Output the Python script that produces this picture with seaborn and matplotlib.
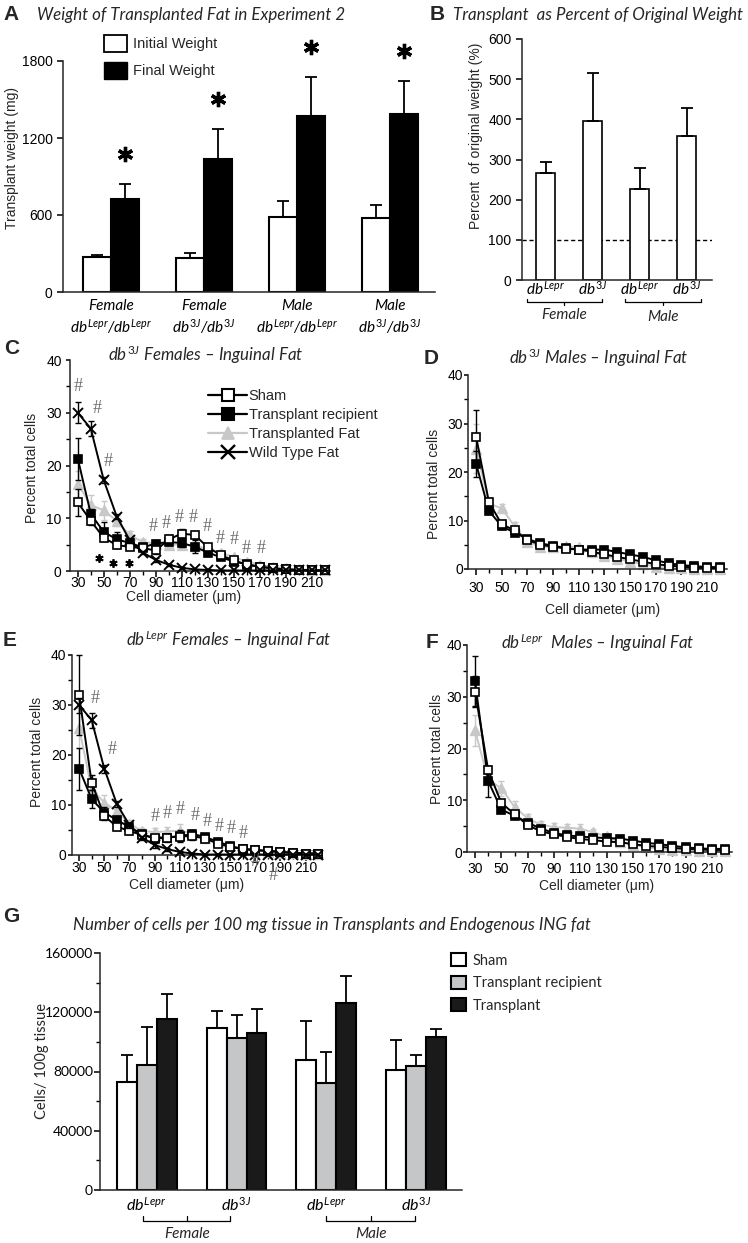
import numpy as np
import pandas as pd
import matplotlib
matplotlib.use('Agg')
import matplotlib.pyplot as plt
import matplotlib.transforms as mtransforms
import seaborn as sns
from matplotlib.patches import Patch
from matplotlib.lines import Line2D
from matplotlib.ticker import MultipleLocator, FixedLocator, FuncFormatter

# ---------------- data ----------------
# A: transplant weight (mg)
groups_a = ['Female dbLepr', 'Female db3J', 'Male dbLepr', 'Male db3J']
a_initial = [270, 265, 584, 576]
a_initial_err = [18, 39, 125, 102]
a_final = [725, 1036, 1371, 1387]
a_final_err = [116, 234, 304, 257]

# B: transplant as percent of original weight
groups_b = ['F dbLepr', 'F db3J', 'M dbLepr', 'M db3J']
b_percent = [266, 397, 226, 358]
b_percent_err = [28, 118, 53, 70]

# C-F: cell size distributions (percent of total cells)
diam = [30, 40, 50, 60, 70, 80, 90, 100, 110, 120, 130, 140, 150, 160, 170, 180, 190, 200, 210, 220]
x_ticks = [30, 50, 70, 90, 110, 130, 150, 170, 190, 210]
x_tick_labels = ['30', '50', '70', '90', '110', '130', '150', '170', '190', '210']

c_sham = [13.0, 9.5, 6.3, 4.9, 4.6, 4.3, 3.9, 6.0, 7.1, 6.8, 4.5, 3.0, 2.0, 1.2, 0.8, 0.5, 0.3, 0.2, 0.1, 0.1]
c_sham_err = [2.5, 0.8, 0.6, 0.5, 0.5, 0.5, 0.6, 0.8, 0.8, 0.8, 0.7, 0.5, 0.4, 0.3, 0.2, 0.2, 0.1, 0.1, 0.1, 0.1]
c_recip = [21.3, 10.8, 7.4, 6.0, 5.3, 4.5, 5.2, 5.5, 5.3, 4.6, 3.5, 2.6, 1.8, 1.3, 0.8, 0.5, 0.3, 0.2, 0.1, 0.1]
c_recip_err = [4.0, 1.0, 1.8, 1.3, 0.8, 0.6, 0.6, 0.6, 0.8, 1.2, 0.6, 0.4, 0.3, 0.3, 0.2, 0.2, 0.1, 0.1, 0.1, 0.1]
c_trans = [16.5, 12.5, 11.5, 9.5, 6.8, 5.5, 5.2, 5.0, 5.0, 4.8, 4.2, 3.5, 2.6, 1.8, 1.2, 0.8, 0.5, 0.3, 0.2, 0.2]
c_trans_err = [2.5, 2.0, 1.8, 1.0, 0.8, 0.6, 0.6, 0.6, 0.6, 0.6, 0.5, 0.4, 0.3, 0.3, 0.2, 0.2, 0.1, 0.1, 0.1, 0.1]
c_wt = [30.0, 27.0, 17.2, 10.3, 5.8, 3.5, 2.1, 1.2, 0.6, 0.3, 0.2, 0.1, 0.1, 0.1, 0.1, 0.1, 0.1, 0.1, 0.1, 0.1]
c_wt_err = [2.0, 1.5, 0.6, 0.5, 0.4, 0.3, 0.3, 0.2, 0.2, 0.1, 0.1, 0.1, 0.0, 0.0, 0.0, 0.0, 0.0, 0.0, 0.0, 0.0]
c_hash_x = [30, 44.6, 53.6, 87.7, 97.9, 108.2, 118.9, 129.9, 139.4, 150.5, 159.5, 171]
c_hash_y = [35, 30.8, 20.7, 8.4, 9.0, 10.2, 10.2, 8.4, 6.2, 5.9, 4.3, 4.3]
c_star_x = [46, 57.4, 69.2]
c_star_y = [2.4, 1.5, 1.5]

d_sham = [27.3, 13.8, 9.2, 8.0, 6.0, 5.0, 4.6, 4.2, 4.0, 3.6, 3.0, 2.5, 2.0, 1.5, 1.0, 0.7, 0.5, 0.3, 0.2, 0.2]
d_sham_err = [5.4, 0.8, 0.6, 0.5, 0.5, 0.4, 0.4, 0.4, 0.4, 0.4, 0.3, 0.3, 0.3, 0.2, 0.2, 0.1, 0.1, 0.1, 0.1, 0.1]
d_recip = [21.7, 12.0, 8.8, 7.5, 6.2, 5.3, 4.8, 4.3, 4.0, 4.0, 4.0, 3.5, 3.0, 2.5, 1.8, 1.2, 0.8, 0.6, 0.4, 0.4]
d_recip_err = [2.7, 0.6, 0.5, 0.5, 0.4, 0.4, 0.4, 0.4, 0.4, 0.4, 0.3, 0.3, 0.3, 0.3, 0.2, 0.2, 0.1, 0.1, 0.1, 0.1]
d_trans = [24.8, 13.5, 12.5, 8.8, 5.6, 4.6, 4.5, 4.7, 4.5, 3.5, 2.7, 2.1, 1.5, 1.0, 0.5, 0.3, 0.2, 0.1, 0.1, 0.1]
d_trans_err = [5.0, 1.0, 0.8, 0.8, 0.5, 0.4, 0.4, 0.4, 0.4, 0.4, 0.3, 0.3, 0.2, 0.2, 0.1, 0.1, 0.1, 0.1, 0.1, 0.1]

e_sham = [32.0, 14.5, 7.8, 5.7, 4.8, 4.0, 3.5, 3.5, 3.7, 3.8, 3.3, 2.3, 1.6, 1.2, 1.0, 0.8, 0.6, 0.5, 0.3, 0.3]
e_sham_err = [8.0, 1.5, 0.8, 0.6, 0.5, 0.5, 0.5, 0.6, 0.8, 0.8, 0.6, 0.5, 0.4, 0.3, 0.2, 0.2, 0.1, 0.1, 0.1, 0.1]
e_recip = [17.3, 11.2, 8.5, 7.0, 5.6, 4.2, 3.2, 3.5, 3.8, 4.2, 3.6, 2.7, 1.8, 1.2, 1.0, 0.8, 0.6, 0.4, 0.3, 0.3]
e_recip_err = [4.2, 1.8, 1.2, 0.8, 0.6, 0.5, 0.6, 0.8, 1.2, 0.8, 0.6, 0.4, 0.3, 0.3, 0.2, 0.2, 0.1, 0.1, 0.1, 0.1]
e_trans = [25.5, 13.2, 10.5, 8.8, 6.3, 4.8, 4.6, 4.7, 4.9, 4.3, 3.5, 2.6, 1.8, 1.3, 1.0, 0.7, 0.5, 0.4, 0.3, 0.3]
e_trans_err = [4.0, 1.5, 1.5, 1.2, 0.8, 0.6, 0.8, 1.0, 1.4, 0.8, 0.6, 0.4, 0.3, 0.3, 0.2, 0.2, 0.1, 0.1, 0.1, 0.1]
e_wt = [30.0, 27.0, 17.3, 10.2, 6.0, 3.5, 2.0, 1.2, 0.6, 0.3, 0.1, 0.1, 0.1, 0.1, 0.1, 0.1, 0.1, 0.1, 0.1, 0.1]
e_wt_err = [1.5, 1.5, 0.8, 0.6, 0.5, 0.4, 0.5, 0.3, 0.2, 0.1, 0.1, 0.1, 0.0, 0.0, 0.0, 0.0, 0.0, 0.0, 0.0, 0.0]
e_hash_x = [43.2, 56.5, 90.3, 100, 110, 122, 132, 141, 151, 160, 170, 184]
e_hash_y = [31.3, 21, 7.7, 8.2, 9, 8, 6.7, 5.7, 5.3, 4.3, -1.3, -4]

f_sham = [31.0, 15.8, 9.5, 7.3, 5.2, 4.0, 3.4, 2.9, 2.5, 2.3, 2.0, 1.9, 1.5, 1.2, 1.0, 0.8, 0.6, 0.5, 0.4, 0.4]
f_sham_err = [3.0, 0.8, 0.6, 0.5, 0.4, 0.3, 0.3, 0.3, 0.3, 0.3, 0.3, 0.2, 0.2, 0.2, 0.1, 0.1, 0.1, 0.1, 0.1, 0.1]
f_recip = [33.0, 13.7, 8.2, 7.0, 5.7, 4.5, 3.7, 3.2, 3.0, 2.8, 2.7, 2.6, 2.2, 1.8, 1.5, 1.2, 0.9, 0.7, 0.6, 0.6]
f_recip_err = [4.8, 3.0, 0.6, 0.5, 0.4, 0.4, 0.3, 0.3, 0.3, 0.3, 0.3, 0.3, 0.2, 0.2, 0.2, 0.1, 0.1, 0.1, 0.1, 0.1]
f_trans = [23.5, 14.0, 12.3, 8.7, 6.5, 5.3, 4.8, 4.7, 4.5, 3.8, 3.0, 2.0, 1.4, 0.9, 0.6, 0.4, 0.3, 0.2, 0.2, 0.2]
f_trans_err = [3.0, 1.0, 1.5, 1.2, 0.8, 0.6, 0.8, 0.8, 0.9, 0.6, 0.5, 0.3, 0.3, 0.2, 0.2, 0.1, 0.1, 0.1, 0.1, 0.1]

# G: cells per 100 mg tissue
groups_g = ['F dbLepr', 'F db3J', 'M dbLepr', 'M db3J']
g_sham = [72600, 109300, 87900, 81100]
g_sham_err = [18700, 11300, 26200, 20300]
g_recip = [84500, 102600, 71900, 83400]
g_recip_err = [25300, 15500, 21600, 7900]
g_transplant = [115400, 105700, 126200, 103200]
g_transplant_err = [17100, 16500, 18100, 5400]

DB_LEPR = r'$\mathit{db}^{\mathit{Lepr}}$'
DB_3J = r'$\mathit{db}^{\mathit{3J}}$'

# ---------------- style ----------------
sns.set_style('ticks')
SANS = ['Liberation Sans', 'DejaVu Sans']
CAL = ['Lato', 'DejaVu Sans']
plt.rcParams['font.family'] = SANS
plt.rcParams['mathtext.fontset'] = 'custom'
plt.rcParams['mathtext.it'] = 'Lato:italic'
plt.rcParams['mathtext.rm'] = 'Lato'
plt.rcParams['mathtext.bf'] = 'Lato:bold'
plt.rcParams['axes.linewidth'] = 1.1

TITLE_SIZE = 12.2
GRAY_LINE = '#c8c8c8'
LINE_STYLES = {
    'sham': dict(color='black', marker='s', mfc='white', mec='black', ms=5.5, mew=1.2, z=4),
    'recip': dict(color='black', marker='s', mfc='black', mec='black', ms=5.5, mew=1.2, z=3),
    'trans': dict(color=GRAY_LINE, marker='^', mfc=GRAY_LINE, mec=GRAY_LINE, ms=6.5, mew=1.0, z=2),
    'wt': dict(color='black', marker='x', mfc='black', mec='black', ms=7, mew=1.4, z=5),
}

W, H = 748, 1243
fig = plt.figure(figsize=(W / 100, H / 100), dpi=100)


def add_ax(l, t, r, b):
    return fig.add_axes([l / W, 1 - b / H, (r - l) / W, (b - t) / H])


def ftext(x, y, s, **kw):
    fig.text(x / W, 1 - y / H, s, **kw)


def base_style(ax):
    sns.despine(ax=ax)
    ax.tick_params(direction='out', length=4, width=1.1, colors='black', labelsize=10)
    ax.tick_params(which='minor', direction='out', length=3, width=1.0, colors='black')


def bar_errors(ax, errs_per_level):
    for cont, errs in zip(ax.containers, errs_per_level):
        xs = [b.get_x() + b.get_width() / 2 for b in cont]
        ys = [b.get_height() for b in cont]
        ax.errorbar(xs, ys, yerr=[np.zeros(len(errs)), errs], fmt='none', ecolor='black',
                    elinewidth=1.3, capsize=4, capthick=1.3, zorder=1)


def bracket(ax, x0, x1, y, label, label_y, tip=0.02, mid_tip=0.02):
    tr = mtransforms.blended_transform_factory(ax.transData, ax.transAxes)
    xm = (x0 + x1) / 2
    ax.plot([x0, x0, x1, x1], [y + tip, y, y, y + tip], color='black', lw=0.9,
            transform=tr, clip_on=False)
    ax.plot([xm, xm], [y, y + mid_tip], color='black', lw=0.9, transform=tr, clip_on=False)
    ax.text(xm, label_y, label, transform=tr, ha='center', va='center',
            family=CAL, style='italic', fontsize=11)


# ---------------- panel A ----------------
axA = add_ax(63, 61, 435, 292)
dfA = pd.DataFrame({'group': groups_a * 2, 'weight': a_initial + a_final,
                    'time': ['Initial Weight'] * 4 + ['Final Weight'] * 4})
sns.barplot(data=dfA, x='group', y='weight', hue='time', hue_order=['Initial Weight', 'Final Weight'],
            palette=['white', 'black'], edgecolor='black', linewidth=1.5, width=0.6, gap=0,
            saturation=1, errorbar=None, legend=False, ax=axA)
bar_errors(axA, [a_initial_err, a_final_err])
final_cont = axA.containers[1]
star_x = [b.get_x() + b.get_width() / 2 for b in final_cont]
star_y = np.array(a_final) + np.array(a_final_err) + 235
axA.plot(star_x, star_y, ls='none', marker=(6, 2, 0), ms=11, mew=2.4,
         color='black', clip_on=False)
base_style(axA)
axA.set_xlim(-0.52, 3.48)
axA.set_ylim(0, 1800)
axA.set_yticks([0, 600, 1200, 1800])
axA.tick_params(axis='x', length=0, pad=5)
axA.set_xticks(range(4))
axA.set_xticklabels(['Female\n' + DB_LEPR + '/' + DB_LEPR, 'Female\n' + DB_3J + '/' + DB_3J,
                     'Male\n' + DB_LEPR + '/' + DB_LEPR, 'Male\n' + DB_3J + '/' + DB_3J],
                    family=CAL, style='italic', fontsize=11, linespacing=1.25)
axA.set_xlabel('')
axA.set_ylabel('Transplant weight (mg)', fontsize=10)
axA.yaxis.set_label_coords(-0.118, 0.58)
fig.legend(handles=[Patch(facecolor='white', edgecolor='black', linewidth=1.3),
                    Patch(facecolor='black', edgecolor='black')],
           labels=['Initial Weight', 'Final Weight'], loc='upper left',
           bbox_to_anchor=(104 / W, 1 - 35 / H), frameon=False, borderpad=0, borderaxespad=0,
           handlelength=1.6, handleheight=1.4, handletextpad=0.4, labelspacing=0.7, fontsize=10.5)
ftext(3, 15, 'A', fontsize=15, fontweight='bold', va='center')
ftext(37, 15, 'Weight of Transplanted Fat in Experiment 2', family=CAL, style='italic',
      fontsize=TITLE_SIZE, va='center')

# ---------------- panel B ----------------
axB = add_ax(522, 39, 712, 280)
sns.barplot(x=groups_b, y=b_percent, color='white', edgecolor='black', linewidth=1.2,
            width=0.4, saturation=1, errorbar=None, ax=axB)
bar_errors(axB, [b_percent_err])
axB.axhline(100, color='black', lw=1.0, ls=(0, (3, 2)), zorder=0)
base_style(axB)
axB.set_xlim(-0.5, 3.54)
axB.set_ylim(0, 600)
axB.set_yticks(range(0, 601, 100))
axB.tick_params(axis='x', length=0, pad=0)
axB.set_xticks(range(4))
axB.set_xticklabels([DB_LEPR, DB_3J, DB_LEPR, DB_3J], fontsize=11)
axB.set_ylabel('Percent  of original weight (%)', fontsize=10)
axB.yaxis.set_label_coords(-0.205, 0.6)
bracket(axB, -0.4, 1.2, -0.091, 'Female', -0.145, tip=0.012, mid_tip=-0.012)
bracket(axB, 1.7, 3.3, -0.091, 'Male', -0.153, tip=0.012, mid_tip=-0.012)
ftext(430, 15, 'B', fontsize=15, fontweight='bold', va='center')
ftext(453, 15, 'Transplant  as Percent of Original Weight', family=CAL, style='italic',
      fontsize=TITLE_SIZE, va='center')


# ---------------- panels C-F ----------------
def cell_panel(ax, series, xlim, pad, ypad, xlabel_pos, ylabel_pos):
    for key, vals, errs in series:
        st = LINE_STYLES[key]
        ax.errorbar(diam, vals, yerr=errs, fmt='none', ecolor=st['color'], elinewidth=1.0,
                    capsize=2.5, capthick=1.0, zorder=st['z'], clip_on=False)
        sns.lineplot(x=diam, y=vals, ax=ax, estimator=None, sort=False, errorbar=None,
                     color=st['color'], lw=1.4, marker=st['marker'], markersize=st['ms'],
                     markerfacecolor=st['mfc'], markeredgecolor=st['mec'],
                     markeredgewidth=st['mew'], zorder=st['z'], clip_on=False)
    base_style(ax)
    ax.set_xlim(xlim)
    ax.set_ylim(0, 40)
    ax.yaxis.set_major_locator(MultipleLocator(10))
    ax.yaxis.set_minor_locator(MultipleLocator(5))
    ax.set_xticks(x_ticks)
    ax.set_xticklabels(x_tick_labels)
    ax.xaxis.set_minor_locator(FixedLocator(diam))
    ax.tick_params(axis='x', pad=pad)
    ax.tick_params(axis='y', pad=ypad, length=3)
    ax.set_xlabel('Cell diameter (μm)', fontsize=10)
    ax.set_ylabel('Percent total cells', fontsize=10)
    ax.xaxis.set_label_coords(*xlabel_pos)
    ax.yaxis.set_label_coords(*ylabel_pos)


def hashes(ax, xs, ys):
    for hx, hy in zip(xs, ys):
        ax.text(hx, hy, '#', ha='center', va='center', family=['Liberation Serif', 'DejaVu Serif'],
                fontsize=13, color='#6e6e6e', clip_on=False, zorder=6)


axC = add_ax(70, 360, 330, 571)
cell_panel(axC, [('trans', c_trans, c_trans_err), ('sham', c_sham, c_sham_err),
                 ('recip', c_recip, c_recip_err), ('wt', c_wt, c_wt_err)],
           (24, 224), -0.5, 3, (0.435, -0.09), (-0.119, 0.49))
hashes(axC, c_hash_x, c_hash_y)
axC.plot(c_star_x, c_star_y, ls='none', marker=(6, 2, 0), ms=6, mew=1.3, color='black')
leg_handles = []
for key in ['sham', 'recip', 'trans', 'wt']:
    st = LINE_STYLES[key]
    leg_handles.append(Line2D([], [], color=st['color'], lw=1.6, marker=st['marker'],
                              markersize=st['ms'] + 2.5, markerfacecolor=st['mfc'],
                              markeredgecolor=st['mec'], markeredgewidth=st['mew'] + 0.3))
fig.legend(handles=leg_handles, labels=['Sham', 'Transplant recipient', 'Transplanted Fat', 'Wild Type Fat'],
           loc='upper left', bbox_to_anchor=(208 / W, 1 - 389 / H), frameon=False, borderpad=0,
           borderaxespad=0, handlelength=2.7, handletextpad=0.1, labelspacing=0.35, fontsize=10.5)
ftext(4, 348, 'C', fontsize=15, fontweight='bold', va='center')
ftext(206, 355, r'$\mathit{db}^{\mathit{3J}}$ Females – Inguinal Fat', family=CAL, style='italic',
      fontsize=TITLE_SIZE, va='center', ha='center')

axD = add_ax(468, 375, 727, 569)
cell_panel(axD, [('trans', d_trans, d_trans_err), ('sham', d_sham, d_sham_err),
                 ('recip', d_recip, d_recip_err)],
           (23.7, 225.5), 5, 0.5, (0.52, -0.175), (-0.104, 0.44))
ftext(424, 358, 'D', fontsize=15, fontweight='bold', va='center')
ftext(599, 358, r'$\mathit{db}^{\mathit{3J}}$ Males – Inguinal Fat', family=CAL, style='italic',
      fontsize=TITLE_SIZE, va='center', ha='center')

axE = add_ax(72, 655, 322, 855)
cell_panel(axE, [('trans', e_trans, e_trans_err), ('sham', e_sham, e_sham_err),
                 ('recip', e_recip, e_recip_err), ('wt', e_wt, e_wt_err)],
           (24.4, 223), 0, 1, (0.46, -0.115), (-0.112, 0.515))
hashes(axE, e_hash_x, e_hash_y)
ftext(3, 640, 'E', fontsize=15, fontweight='bold', va='center')
ftext(229, 640, r'$\mathit{db}^{\mathit{Lepr}}$ Females – Inguinal Fat', family=CAL, style='italic',
      fontsize=TITLE_SIZE, va='center', ha='center')

axF = add_ax(467, 645, 732, 852)
cell_panel(axF, [('trans', f_trans, f_trans_err), ('sham', f_sham, f_sham_err),
                 ('recip', f_recip, f_recip_err)],
           (23.9, 225.3), 3, 0.5, (0.49, -0.13), (-0.085, 0.5))
ftext(426, 642, 'F', fontsize=15, fontweight='bold', va='center')
ftext(598, 643, r'$\mathit{db}^{\mathit{Lepr}}$  Males – Inguinal Fat', family=CAL, style='italic',
      fontsize=TITLE_SIZE, va='center', ha='center')

# ---------------- panel G ----------------
axG = add_ax(100, 953, 462, 1190)
dfG = pd.DataFrame({'group': groups_g * 3, 'cells': g_sham + g_recip + g_transplant,
                    'kind': ['Sham'] * 4 + ['Transplant recipient'] * 4 + ['Transplant'] * 4})
g_colors = ['white', '#c5c6c8', '#1a1a1a']
sns.barplot(data=dfG, x='group', y='cells', hue='kind',
            hue_order=['Sham', 'Transplant recipient', 'Transplant'], palette=g_colors,
            edgecolor='black', linewidth=1.5, width=0.667, gap=0, saturation=1,
            errorbar=None, legend=False, ax=axG)
bar_errors(axG, [g_sham_err, g_recip_err, g_transplant_err])
base_style(axG)
axG.set_xlim(-0.52, 3.51)
axG.set_ylim(0, 160000)
axG.yaxis.set_major_locator(MultipleLocator(40000))
axG.yaxis.set_minor_locator(MultipleLocator(20000))
axG.yaxis.set_major_formatter(FuncFormatter(lambda v, p: f'{int(v)}'))
for lab in axG.get_yticklabels():
    lab.set_family(CAL)
axG.tick_params(axis='y', labelsize=10, pad=1)
axG.tick_params(axis='x', length=0, pad=4)
axG.set_xticks(range(4))
axG.set_xticklabels([DB_LEPR, DB_3J, DB_LEPR, DB_3J], fontsize=11.5)
axG.set_xlabel('')
axG.set_ylabel('Cells/ 100g tissue', family=CAL, fontsize=10.5)
axG.yaxis.set_label_coords(-0.141, 0.544)
bracket(axG, -0.04, 0.93, -0.13, 'Female', -0.185, tip=0.02, mid_tip=0.02)
bracket(axG, 2.0, 2.99, -0.13, 'Male', -0.185, tip=0.02, mid_tip=0.02)
fig.legend(handles=[Patch(facecolor=c, edgecolor='black', linewidth=1.5) for c in g_colors],
           labels=['Sham', 'Transplant recipient', 'Transplant'], loc='upper left',
           bbox_to_anchor=(451 / W, 1 - 953 / H), frameon=False, borderpad=0, borderaxespad=0,
           handlelength=1.0, handleheight=1.0, handletextpad=0.5, labelspacing=0.55,
           prop={'family': CAL, 'size': 10.5})
ftext(3, 917, 'G', fontsize=15, fontweight='bold', va='center')
ftext(73, 925, 'Number of cells per 100 mg tissue in Transplants and Endogenous ING fat',
      family=CAL, style='italic', fontsize=TITLE_SIZE, va='center')

fig.savefig('out.png', dpi=100)
